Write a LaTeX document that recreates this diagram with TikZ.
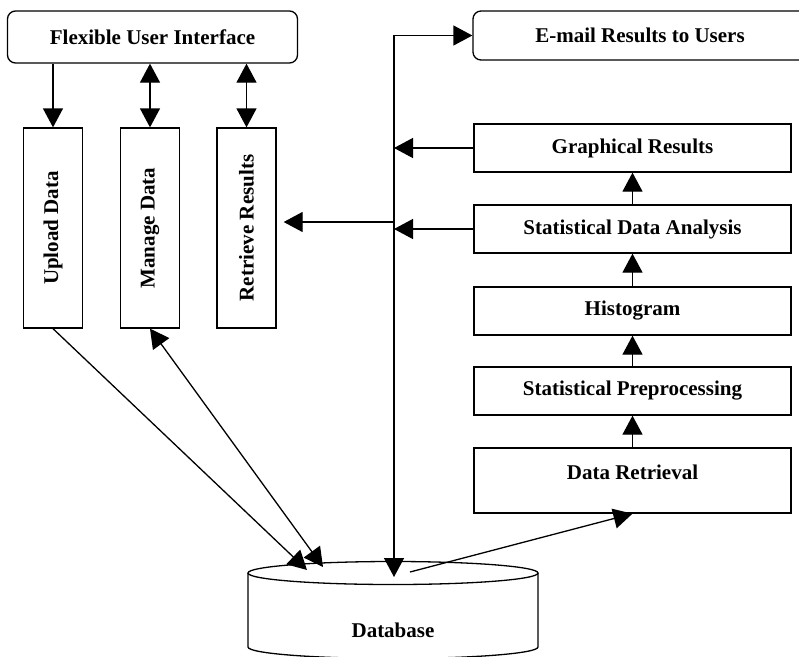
\documentclass[tikz,border=0pt]{standalone}
\usepackage{fontspec}
\setmainfont{Liberation Serif}
\usetikzlibrary{arrows.meta}

\begin{document}
\begin{tikzpicture}[x=1pt, y=-1pt, line width=1.3pt,
        >={Triangle[length=19pt, width=20pt]},
        box/.style={draw, minimum width=317pt, minimum height=48pt, inner sep=0pt,
                    font=\fontsize{21}{25}\selectfont\bfseries},
        ubox/.style={box, rounded corners=8pt, minimum height=52pt},
        vbox/.style={box, rotate=90, minimum width=200pt, minimum height=59pt}]

        \useasboundingbox (0,0) rectangle (799,656);
        \clip (0,0) rectangle (799,656);

        % user side
        \node[ubox, minimum width=290pt] (fui)   at (152.5,37)  {Flexible User Interface};
        \node[ubox, minimum width=334pt, minimum height=49pt] (email) at (640,35.5) {E-mail Results to Users};

        \node[vbox] (upload)   at (53,228)    {Upload Data};
        \node[vbox] (manage)   at (150,228)   {Manage Data};
        \node[vbox] (retrieve) at (246.5,228) {Retrieve Results};

        % analysis chain
        \node[box] (graph) at (632.5,148) {Graphical Results};
        \node[box] (sda)   at (632.5,229) {Statistical Data Analysis};
        \node[box] (hist)  at (632.5,311) {Histogram};
        \node[box] (prep)  at (632.5,391) {Statistical Preprocessing};
        \node[box, minimum height=65pt, text depth=16pt] (dr) at (632.5,480.5) {Data Retrieval};

        % database
        \draw (248,573) -- (248,647) arc[start angle=180, end angle=0, x radius=145, y radius=11.5] -- (538,573);
        \draw (393,573) ellipse[x radius=145, y radius=11.5];
        \node[font=\fontsize{21}{25}\selectfont\bfseries] (db) at (393,630) {Database};

        \coordinate (bus)   at (394,577);
        \coordinate (upin)  at (307,570);
        \coordinate (mgin)  at (323,567);
        \coordinate (drout) at (410,572);
        \coordinate (rtap)  at (394,222);

        \draw[->]  (upload.east |- fui.south) -- (upload.east);
        \draw[<->] (manage.east |- fui.south) -- (manage.east);
        \draw[<->] (retrieve.east |- fui.south) -- (retrieve.east);

        \draw[->]  (upload.west) -- (upin);
        \draw[<->] (mgin) -- (manage.west);

        \draw[<->] (bus) |- (email.west);
        \draw[->]  (graph.west) -- (graph.west -| bus);
        \draw[->]  (sda.west) -- (sda.west -| bus);
        \draw[->, shorten >=7pt] (rtap) -- (rtap -| retrieve.south);

        \draw[->] (sda.north)  -- (graph.south);
        \draw[->] (hist.north) -- (sda.south);
        \draw[->] (prep.north) -- (hist.south);
        \draw[->] (dr.north)   -- (prep.south);
        \draw[->] (drout) -- (dr.south);
      \end{tikzpicture}
\end{document}
